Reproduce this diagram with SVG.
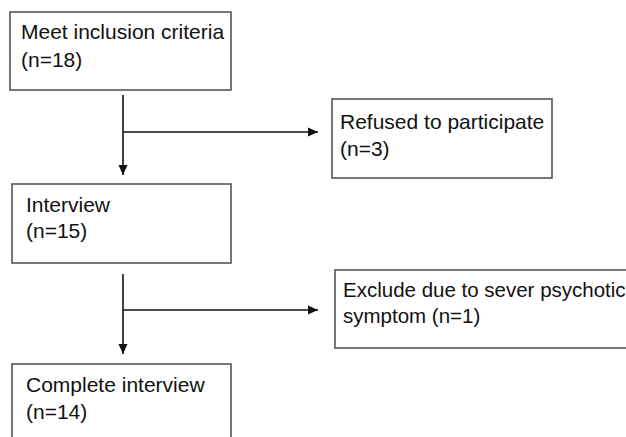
<svg xmlns="http://www.w3.org/2000/svg" width="626" height="437" viewBox="0 0 626 437">
<defs>
<style>
.box{fill:#fff;stroke:#555;stroke-width:1.6}
.t{font-family:"Liberation Sans",Arial,sans-serif;font-size:21px;fill:#111}
.c{fill:none;stroke:#111;stroke-width:1.6}
</style>
<marker id="ah" viewBox="0 0 10 10" refX="10" refY="5" markerWidth="10" markerHeight="10" markerUnits="userSpaceOnUse" orient="auto">
<path d="M0,0.5 L10,5 L0,9.5 Z" fill="#111"/>
</marker>
</defs>
<rect width="626" height="437" fill="#fff"/>
<g id="connectors">
<path class="c" d="M123,95 V175" marker-end="url(#ah)"/>
<path class="c" d="M123,132 H318" marker-end="url(#ah)"/>
<path class="c" d="M123,274 V354" marker-end="url(#ah)"/>
<path class="c" d="M123,310 H318" marker-end="url(#ah)"/>
</g>
<g id="meet">
<rect class="box" x="10" y="12" width="221" height="78"/>
<text class="t" x="21" y="39">Meet inclusion criteria</text>
<text class="t" x="21" y="67">(n=18)</text>
</g>
<g id="refused">
<rect class="box" x="332" y="99" width="220" height="79"/>
<text class="t" x="340" y="129">Refused to participate</text>
<text class="t" x="340" y="156">(n=3)</text>
</g>
<g id="interview">
<rect class="box" x="12" y="184" width="219" height="79"/>
<text class="t" x="26" y="212">Interview</text>
<text class="t" x="26" y="238">(n=15)</text>
</g>
<g id="exclude">
<rect class="box" x="335" y="270" width="310" height="78"/>
<text class="t" x="343" y="297" style="font-size:20.5px">Exclude due to sever psychotic</text>
<text class="t" x="343" y="323" style="font-size:20.5px">symptom (n=1)</text>
</g>
<g id="complete">
<rect class="box" x="12" y="364" width="219" height="90"/>
<text class="t" x="26" y="392">Complete interview</text>
<text class="t" x="26" y="419">(n=14)</text>
</g>
</svg>
